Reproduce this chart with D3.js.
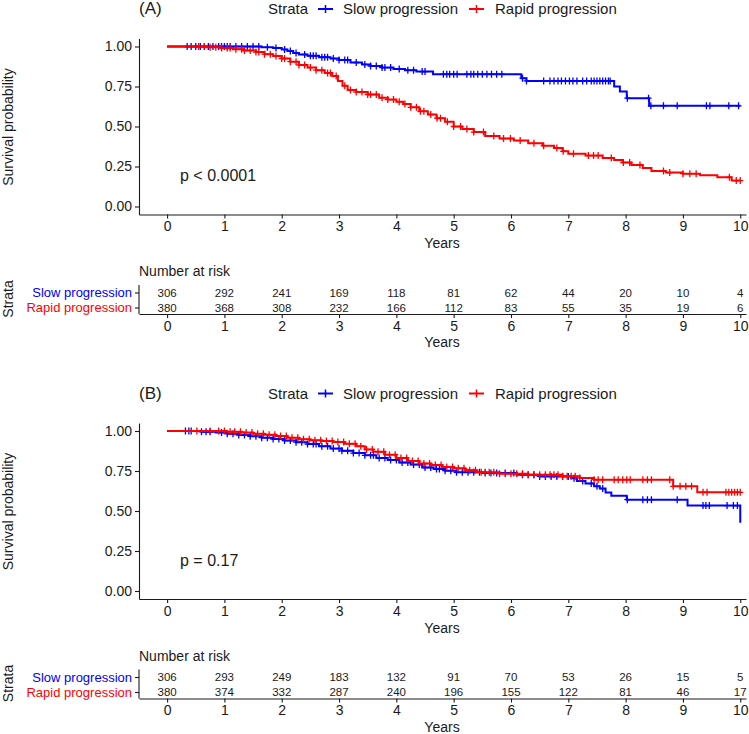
<!DOCTYPE html>
<html>
<head>
<meta charset="utf-8">
<script src="https://cdn.jsdelivr.net/npm/d3@7"></script>
<style>
  body { margin: 0; background: #fff; }
  text { font-family: "Liberation Sans", Arial, sans-serif; }
</style>
</head>
<body>
<script>
// ---- data ----
const strata = ["Slow progression", "Rapid progression"];
const strataColors = ["#0000ff", "#ff0000"];
const yearTicks = [0, 1, 2, 3, 4, 5, 6, 7, 8, 9, 10];
const survTicks = [0, 0.25, 0.5, 0.75, 1];

// panel A: step points [years, survival after the drop]
const slowStepsA = [
  [1.65, 0.995], [1.85, 0.99], [2.0, 0.982], [2.1, 0.972], [2.2, 0.96], [2.3, 0.95],
  [2.45, 0.942], [2.65, 0.933], [2.85, 0.925], [3.0, 0.915], [3.2, 0.9], [3.4, 0.888],
  [3.55, 0.878], [3.75, 0.868], [3.95, 0.86], [4.15, 0.852], [4.35, 0.843], [4.64, 0.827],
  [6.18, 0.802], [6.27, 0.785], [7.8, 0.75], [7.9, 0.718], [8.02, 0.677], [8.41, 0.629]
];
const rapidStepsA = [
  [0.7, 0.996], [0.95, 0.99], [1.15, 0.983], [1.35, 0.975], [1.55, 0.965], [1.7, 0.952],
  [1.85, 0.94], [2.0, 0.925], [2.15, 0.905], [2.3, 0.885], [2.45, 0.868], [2.6, 0.852],
  [2.75, 0.835], [2.88, 0.815], [2.98, 0.785], [3.06, 0.755], [3.15, 0.728], [3.3, 0.715],
  [3.5, 0.7], [3.7, 0.68], [3.85, 0.668], [4.0, 0.655], [4.12, 0.64], [4.25, 0.62],
  [4.4, 0.595], [4.55, 0.575], [4.7, 0.552], [4.85, 0.53], [5.0, 0.5], [5.15, 0.485],
  [5.35, 0.465], [5.55, 0.44], [5.8, 0.425], [6.05, 0.412], [6.3, 0.395], [6.55, 0.38],
  [6.75, 0.365], [6.9, 0.345], [7.0, 0.33], [7.3, 0.318], [7.6, 0.303], [7.8, 0.29],
  [7.95, 0.275], [8.1, 0.26], [8.3, 0.24], [8.45, 0.222], [8.7, 0.212], [9.0, 0.205],
  [9.3, 0.196], [9.6, 0.183], [9.85, 0.162]
];
// censoring times (years)
const slowCensorA = [
  0.35, 0.42, 0.5, 0.58, 0.65, 0.72, 0.8, 0.9, 0.95, 1.0, 1.05, 1.1, 1.2, 1.3, 1.4, 1.5,
  1.6, 1.75, 1.9, 2.05, 2.15, 2.25, 2.4, 2.5, 2.55, 2.6, 2.7, 2.75, 2.8, 2.9, 3.0, 3.1,
  3.15, 3.3, 3.45, 3.55, 3.65, 3.75, 3.8, 3.9, 4.05, 4.2, 4.3, 4.45, 4.5, 4.82, 4.88,
  4.93, 5.0, 5.06, 5.23, 5.3, 5.35, 5.42, 5.5, 5.58, 5.66, 5.75, 5.84, 6.2, 6.27, 6.57,
  6.68, 6.75, 6.82, 6.88, 6.95, 7.02, 7.08, 7.15, 7.25, 7.32, 7.4, 7.45, 7.5, 7.55, 7.6,
  7.65, 7.7, 7.73, 8.03, 8.4, 8.44, 8.66, 8.9, 9.41, 9.47, 9.8, 9.97
];
const rapidCensorA = [
  0.55, 0.65, 0.75, 0.85, 0.95, 1.05, 1.1, 1.2, 1.3, 1.35, 1.45, 1.55, 1.6, 1.7, 1.8,
  1.9, 2.0, 2.05, 2.15, 2.25, 2.3, 2.4, 2.5, 2.6, 2.7, 2.8, 2.85, 2.95, 3.1, 3.2, 3.3,
  3.4, 3.5, 3.55, 3.65, 3.75, 3.85, 3.95, 4.05, 4.15, 4.25, 4.35, 4.42, 4.48, 4.6, 4.71,
  4.77, 4.89, 5.0, 5.12, 5.23, 5.35, 5.52, 5.7, 5.87, 5.99, 6.16, 6.4, 6.57, 6.8, 6.91,
  7.09, 7.35, 7.44, 7.52, 7.75, 7.96, 8.07, 8.25, 8.66, 8.77, 9.0, 9.12, 9.23, 9.81,
  9.93, 10.0
];
const slowRiskA = [306, 292, 241, 169, 118, 81, 62, 44, 20, 10, 4];
const rapidRiskA = [380, 368, 308, 232, 166, 112, 83, 55, 35, 19, 6];

// panel B
const slowStepsB = [
  [0.6, 0.995], [0.85, 0.99], [1.05, 0.983], [1.25, 0.975], [1.45, 0.967], [1.65, 0.958],
  [1.85, 0.95], [2.05, 0.94], [2.25, 0.93], [2.45, 0.918], [2.65, 0.905], [2.85, 0.89],
  [3.05, 0.876], [3.25, 0.862], [3.45, 0.848], [3.65, 0.832], [3.85, 0.818], [4.05, 0.803],
  [4.25, 0.79], [4.45, 0.772], [4.65, 0.762], [4.85, 0.752], [5.05, 0.742], [5.5, 0.737],
  [6.1, 0.727], [6.5, 0.716], [7.05, 0.705], [7.15, 0.688], [7.3, 0.672], [7.45, 0.655],
  [7.55, 0.64], [7.65, 0.615], [7.75, 0.595], [8.02, 0.571], [9.08, 0.534], [10.0, 0.427]
];
const rapidStepsB = [
  [1.05, 0.995], [1.3, 0.99], [1.5, 0.983], [1.7, 0.976], [1.9, 0.968], [2.1, 0.958],
  [2.3, 0.948], [2.5, 0.942], [2.7, 0.937], [2.9, 0.932], [3.1, 0.92], [3.3, 0.905],
  [3.45, 0.885], [3.6, 0.87], [3.8, 0.852], [4.0, 0.832], [4.2, 0.812], [4.4, 0.797],
  [4.6, 0.787], [4.8, 0.775], [5.0, 0.767], [5.2, 0.755], [5.4, 0.742], [5.8, 0.733],
  [6.3, 0.726], [6.9, 0.717], [7.2, 0.706], [7.45, 0.696], [8.83, 0.654], [9.25, 0.617]
];
const slowCensorB = [
  0.32, 0.38, 0.42, 0.6, 0.68, 0.75, 0.95, 1.05, 1.15, 1.25, 1.35, 1.45, 1.55, 1.65, 1.75,
  1.85, 1.95, 2.05, 2.15, 2.25, 2.35, 2.45, 2.55, 2.6, 2.7, 2.8, 2.9, 3.0, 3.05, 3.15,
  3.25, 3.35, 3.45, 3.55, 3.6, 3.7, 3.8, 3.9, 4.0, 4.1, 4.2, 4.3, 4.4, 4.5, 4.6, 4.7,
  4.75, 4.85, 4.95, 5.05, 5.15, 5.25, 5.35, 5.45, 5.55, 5.65, 5.75, 5.9, 6.05, 6.2, 6.3,
  6.4, 6.5, 6.6, 6.7, 6.8, 6.9, 7.0, 7.1, 7.25, 7.4, 7.5, 7.6, 8.03, 8.3, 8.38, 8.45,
  8.9, 9.35, 9.4, 9.46, 9.77, 9.88, 9.95
];
const rapidCensorB = [
  0.52, 0.75, 0.9, 1.0, 1.1, 1.18, 1.28, 1.38, 1.48, 1.58, 1.68, 1.78, 1.88, 1.98, 2.08,
  2.18, 2.28, 2.38, 2.48, 2.58, 2.68, 2.78, 2.88, 2.98, 3.08, 3.18, 3.28, 3.38, 3.48,
  3.58, 3.68, 3.78, 3.88, 3.98, 4.08, 4.18, 4.28, 4.38, 4.48, 4.58, 4.68, 4.78, 4.88,
  4.98, 5.08, 5.18, 5.28, 5.38, 5.48, 5.55, 5.62, 5.7, 5.8, 5.9, 6.0, 6.1, 6.2, 6.3,
  6.4, 6.5, 6.6, 6.68, 6.75, 6.82, 6.9, 6.98, 7.05, 7.12, 7.2, 7.45, 7.52, 7.6, 7.8,
  7.87, 7.95, 8.02, 8.08, 8.3, 8.38, 8.45, 8.77, 8.83, 8.95, 9.05, 9.15, 9.35, 9.42,
  9.75, 9.8, 9.85, 9.9, 9.95, 10.0
];
const slowRiskB = [306, 293, 249, 183, 132, 91, 70, 53, 26, 15, 5];
const rapidRiskB = [380, 374, 332, 287, 240, 196, 155, 122, 81, 46, 17];

// ---- drawing ----
const width = 749;
const height = 734;
const ink = "#1a1a1a";

const svg = d3.select("body").append("svg")
  .attr("width", width)
  .attr("height", height)
  .attr("viewBox", `0 0 ${width} ${height}`);

const x = d3.scaleLinear().domain([-0.49, 10.1]).range([139, 746]);
const y = d3.scaleLinear().domain([-0.05, 1.05]).range([214.5, 38.5]);
const yRisk = d3.scalePoint().domain(strata).range([292.5, 307.5]);

const stepLine = d3.line()
  .x(d => x(d[0]))
  .y(d => y(d[1]))
  .curve(d3.curveStepAfter);

// survival value of a step curve at time t
const survAt = (steps, t) => {
  let s = 1;
  for (const [st, sv] of steps) if (st <= t) s = sv;
  return s;
};

const styleAxis = (sel, size) => {
  sel.attr("font-family", null).attr("font-size", null);
  sel.select(".domain").attr("stroke", ink).attr("stroke-width", 1.1);
  sel.selectAll(".tick line").attr("stroke", ink).attr("stroke-width", 1.1);
  sel.selectAll(".tick text").attr("fill", ink).attr("font-size", size);
};

function drawPanel(offset, label, pText, steps, censors, risks) {
  const g = svg.append("g").attr("transform", `translate(0,${offset})`);

  g.append("text").attr("x", 139).attr("y", 14).attr("font-size", 17).attr("fill", ink).text(label);

  // legend
  const legend = g.append("g").attr("font-size", 15).attr("fill", ink);
  legend.append("text").attr("x", 268).attr("y", 14).text("Strata");
  const keyX = [318, 469];
  const textX = [343, 495];
  strata.forEach((s, i) => {
    legend.append("line").attr("x1", keyX[i]).attr("x2", keyX[i] + 15).attr("y1", 9).attr("y2", 9)
      .attr("stroke", strataColors[i]).attr("stroke-width", 2);
    legend.append("line").attr("x1", keyX[i] + 7.5).attr("x2", keyX[i] + 7.5).attr("y1", 5).attr("y2", 13)
      .attr("stroke", strataColors[i]).attr("stroke-width", 1.5);
    legend.append("text").attr("x", textX[i]).attr("y", 14).text(s);
  });

  // survival axes
  g.append("g").attr("transform", "translate(139,0)")
    .call(d3.axisLeft(y).tickValues(survTicks).tickFormat(d3.format(".2f")).tickSize(4).tickSizeOuter(0))
    .call(styleAxis, 14);
  g.append("g").attr("transform", `translate(0,${y.range()[0]})`)
    .call(d3.axisBottom(x).tickValues(yearTicks).tickSize(4).tickSizeOuter(0))
    .call(styleAxis, 14);

  g.append("text").attr("x", 442).attr("y", 248).attr("text-anchor", "middle")
    .attr("font-size", 14).attr("fill", ink).text("Years");
  g.append("text").attr("transform", "translate(12.5,127) rotate(-90)").attr("text-anchor", "middle")
    .attr("font-size", 14).attr("fill", ink).text("Survival probability");

  // curves and censor marks
  strata.forEach((s, i) => {
    const pts = [[0, 1], ...steps[i]];
    const last = pts[pts.length - 1];
    if (last[0] < 10) pts.push([10, last[1]]);
    g.append("path").datum(pts)
      .attr("d", stepLine)
      .attr("fill", "none")
      .attr("stroke", strataColors[i])
      .attr("stroke-width", 2);
    g.append("g").selectAll("path")
      .data(censors[i])
      .join("path")
      .attr("d", t => {
        const cx = x(t), cy = y(survAt(steps[i], t));
        return `M${cx - 3},${cy}H${cx + 3}M${cx},${cy - 3.5}V${cy + 3.5}`;
      })
      .attr("stroke", strataColors[i])
      .attr("stroke-width", 1.3);
  });

  g.append("text").attr("x", 180).attr("y", 181).attr("font-size", 16).attr("fill", ink).text(pText);

  // number at risk table
  g.append("text").attr("x", 139).attr("y", 276).attr("font-size", 14).attr("fill", ink).text("Number at risk");

  const ra = g.append("g").attr("transform", "translate(139,0)")
    .call(d3.axisLeft(yRisk).tickSize(4).tickSizeOuter(0).tickFormat(""))
    .call(styleAxis, 14);
  ra.select(".domain").attr("d", "M0,285V314");

  g.append("g").selectAll("text")
    .data(strata)
    .join("text")
    .attr("x", 132)
    .attr("y", d => yRisk(d))
    .attr("dy", "0.35em")
    .attr("text-anchor", "end")
    .attr("font-size", 13)
    .attr("fill", (d, i) => strataColors[i])
    .text(d => d);

  strata.forEach((s, i) => {
    g.append("g").selectAll("text")
      .data(risks[i])
      .join("text")
      .attr("x", (d, j) => x(yearTicks[j]))
      .attr("y", yRisk(s))
      .attr("dy", "0.35em")
      .attr("text-anchor", "middle")
      .attr("font-size", 11.5)
      .attr("fill", ink)
      .text(d => d);
  });

  g.append("g").attr("transform", "translate(0,314)")
    .call(d3.axisBottom(x).tickValues(yearTicks).tickSize(4).tickSizeOuter(0))
    .call(styleAxis, 14);

  g.append("text").attr("x", 442).attr("y", 347).attr("text-anchor", "middle")
    .attr("font-size", 14).attr("fill", ink).text("Years");
  g.append("text").attr("transform", "translate(13,299) rotate(-90)").attr("text-anchor", "middle")
    .attr("font-size", 14).attr("fill", ink).text("Strata");
}

drawPanel(0, "(A)", "p < 0.0001",
  [slowStepsA, rapidStepsA], [slowCensorA, rapidCensorA], [slowRiskA, rapidRiskA]);
drawPanel(384.5, "(B)", "p = 0.17",
  [slowStepsB, rapidStepsB], [slowCensorB, rapidCensorB], [slowRiskB, rapidRiskB]);
</script>
</body>
</html>
